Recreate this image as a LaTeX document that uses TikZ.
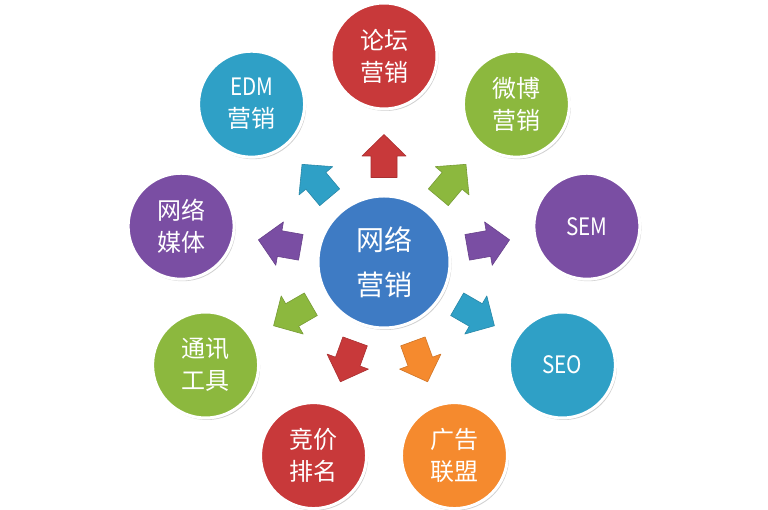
\documentclass[tikz,border=0pt]{standalone}
\usepackage{fontspec}
\setmainfont{Noto Sans CJK SC}
\newfontfamily\narrowlatin[FakeStretch=0.86]{Noto Sans CJK SC}
\usetikzlibrary{shadows}
\definecolor{cblue}{HTML}{3E7BC4}
\definecolor{cred}{HTML}{C8393A}
\definecolor{cteal}{HTML}{2FA0C6}
\definecolor{cgreen}{HTML}{8CB83E}
\definecolor{cpurple}{HTML}{7A4EA3}
\definecolor{corange}{HTML}{F58A2E}
\tikzset{
  bubble/.style={circle, fill=#1, draw=white, line width=3pt, minimum size=106pt,
    inner sep=0pt, text=white, font=\fontsize{24}{32}\selectfont, align=center,
    drop shadow={shadow xshift=1.5pt, shadow yshift=-2pt, opacity=0.3, fill=black!60}},
  hub/.style={bubble=cblue, minimum size=132pt, font=\fontsize{28}{45}\selectfont},
  blockarrow/.style={fill=#1, draw=#1!85!black, line width=0.6pt, line join=round},
}
\newcommand\blockarr[3]{% coordinate, angle, colour
  \fill[blockarrow=#3, shift={(#1)}, rotate=#2]
    (-21.5,-13) -- (0,-13) -- (0,-22) -- (21.5,0) -- (0,22) -- (0,13) -- (-21.5,13) -- cycle;}
\begin{document}
\begin{tikzpicture}[x=1pt,y=1pt]
\useasboundingbox[fill=white] (0,0) rectangle (768,510);
\coordinate (o) at (384,248);
% outer bubbles
\node[bubble=cred]    (luntan) at ([shift={(90:206)}]o)  {论坛\\营销};
\node[bubble=cteal]   (edm)    at ([shift={(130:206)}]o) {{\narrowlatin EDM}\\营销};
\node[bubble=cgreen]  (weibo)  at ([shift={(50:206)}]o)  {微博\\营销};
\node[bubble=cpurple] (meiti)  at ([shift={(170:206)}]o) {网络\\媒体};
\node[bubble=cpurple] (sem)    at ([shift={(10:206)}]o)  {\narrowlatin SEM};
\node[bubble=cgreen]  (tongxun) at ([shift={(210:206)}]o) {通讯\\工具};
\node[bubble=cteal]   (seo)    at ([shift={(330:206)}]o) {\narrowlatin SEO};
\node[bubble=cred]    (jingjia) at ([shift={(250:206)}]o) {竞价\\排名};
\node[bubble=corange] (guanggao) at ([shift={(290:206)}]o) {广告\\联盟};
% hub
\node[hub] (c) at (o) {网络\\营销};
% arrows
\coordinate (a1) at ([shift={(90:106)}]o);
\coordinate (a2) at ([shift={(130:106)}]o);
\coordinate (a3) at ([shift={(50:106)}]o);
\coordinate (a4) at ([shift={(170:106)}]o);
\coordinate (a5) at ([shift={(10:106)}]o);
\coordinate (a6) at ([shift={(210:106)}]o);
\coordinate (a7) at ([shift={(330:106)}]o);
\coordinate (a8) at ([shift={(250:106)}]o);
\coordinate (a9) at ([shift={(290:106)}]o);
\blockarr{a1}{90}{cred}
\blockarr{a2}{130}{cteal}
\blockarr{a3}{50}{cgreen}
\blockarr{a4}{170}{cpurple}
\blockarr{a5}{10}{cpurple}
\blockarr{a6}{210}{cgreen}
\blockarr{a7}{330}{cteal}
\blockarr{a8}{250}{cred}
\blockarr{a9}{290}{corange}
\end{tikzpicture}
\end{document}
